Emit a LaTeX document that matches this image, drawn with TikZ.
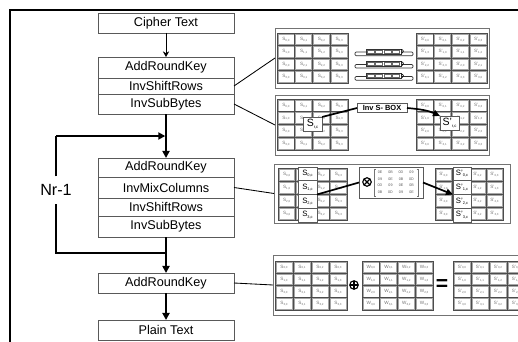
\documentclass[tikz,border=0pt]{standalone}
\usepackage{fontspec}
\setmainfont{Liberation Sans}
\usetikzlibrary{arrows.meta,calc}

% one drawing unit = 0.025cm
\newdimen\pxu \pxu=0.025cm

% state entry: letter with row,column index
\newcommand\idx[3]{{\fontsize{3.3}{3.3}\selectfont #1\raisebox{-0.6pt}{\fontsize{2.1}{2.1}\selectfont #2,#3}}}
\newcommand\bigidx[3]{{\fontsize{5.5}{5.5}\selectfont #1\raisebox{-0.9pt}{\fontsize{2.8}{2.8}\selectfont #2,#3}}}
\newcommand\boxidx[1]{{\fontsize{7.5}{7.5}\selectfont #1\raisebox{-1.6pt}{\fontsize{3}{3}\selectfont r,c}}}

\tikzset{
  flowbox/.style={draw=black!65, line width=0.6pt, fill=white, minimum width=136*\pxu,
    inner sep=0pt, outer sep=0pt, font=\fontsize{9}{9}\selectfont},
  flowarr/.style={line width=1.3pt, -{Triangle[length=5pt,width=5pt]}},
  flowline/.style={line width=1.3pt},
  thinarr/.style={line width=0.6pt, -{Stealth[length=4pt,width=4.5pt]}},
  link/.style={line width=0.6pt},
  panel/.style={draw=black!55, line width=0.6pt, inner sep=0pt, outer sep=0pt},
  gridline/.style={draw=black!70, line width=0.45pt},
  cellline/.style={draw=black!35, line width=0.3pt},
  celltext/.style={inner sep=0pt, text=black!55},
  hibox/.style={draw=black!65, fill=white, line width=0.5pt, inner sep=0pt, outer sep=0pt},
  hot/.style={line width=1.2pt},
  hotarr/.style={line width=1.2pt, -{Triangle[length=5pt,width=4.5pt]}},
  hex/.style={inner sep=0pt, text=black!65, font=\fontsize{2.6}{2.6}\selectfont},
  bar/.style={draw=black!80, line width=0.5pt, fill=white},
  opcircle/.style={circle, draw, line width=0.8pt, inner sep=0pt, minimum size=8.5*\pxu},
}

% 4x4 state grid: name, x0, y0, cell width, cell height, letter, row shift,
% column left without entries (it is covered by a highlighted column)
\newcommand\stategrid[8]{%
  \foreach \ri in {0,...,3}{%
    \foreach \ci in {0,...,3}{%
      \pgfmathtruncatemacro\cc{mod(\ci-#7*\ri+4,4)}%
      \draw[cellline] ({#2+\ci*#4+0.9},{#3+\ri*#5+0.9}) rectangle ++({#4-1.8},{#5-1.8});
      \ifnum\ci=#8\relax\else
        \node[celltext] (#1-\ri-\ci) at ({#2+(\ci+0.5)*#4},{#3+(\ri+0.5)*#5}) {\idx{#6}{\ri}{\cc}};
      \fi
    }}%
  \draw[gridline] (#2,#3) rectangle ++({4*#4},{4*#5});
  \foreach \k in {1,2,3}{%
    \draw[gridline] ({#2+\k*#4},#3) -- ++(0,{4*#5});
    \draw[gridline] (#2,{#3+\k*#5}) -- ++({4*#4},0);
  }%
}

% one shifted row strip, centred on row height #1
\newcommand\shiftbar[1]{%
  \draw[bar, rounded corners=0.8pt] (355,{#1-0.2}) rectangle (413,{#1+3.4});
  \draw[bar] (366,{#1-3}) rectangle (401,{#1+1.6});
  \foreach \k in {0,1,2,3}
    \draw[draw=black!60, line width=0.35pt] ({367+\k*8.5},{#1-2.2}) rectangle ++(7,3);
  \draw[line width=0.45pt] (401,{#1-3}) .. controls (404,{#1-2.5}) and (404,{#1}) .. (402,{#1+1});
}

\begin{document}
\begin{tikzpicture}[x=0.025cm, y=-0.025cm]
\useasboundingbox (0,0) rectangle (518,341);
\clip (0,0) rectangle (518,341);

% outer frame
\draw[line width=1.5pt] (10,342) -- (10,10) -- (519,10);

% ---------- decryption flow ----------
\node[flowbox, minimum height=20*\pxu] (cipher) at (166,23) {Cipher Text};

\node[flowbox, minimum height=21*\pxu] (ark1) at (166,67.5) {AddRoundKey};
\node[flowbox, minimum height=16*\pxu] (isr1) at (166,86) {InvShiftRows};
\node[flowbox, minimum height=20*\pxu] (isb1) at (166,104) {InvSubBytes};

\node[flowbox, minimum height=19*\pxu] (ark2) at (166,167.5) {AddRoundKey};
\node[flowbox, minimum height=21*\pxu] (imc2) at (166,187.5) {InvMixColumns};
\node[flowbox, minimum height=18*\pxu] (isr2) at (166,207) {InvShiftRows};
\node[flowbox, minimum height=21*\pxu] (isb2) at (166,226.5) {InvSubBytes};

\node[flowbox, minimum height=20*\pxu] (ark3) at (166,283) {AddRoundKey};
\node[flowbox, minimum height=20*\pxu] (plain) at (166,330) {Plain Text};

\draw[thinarr] (cipher.south) -- (ark1.north);
\draw[flowarr] (isb1.south) -- (ark2.north);
\draw[flowarr] (isb2.south) -- (ark3.north);
\draw[flowarr] (ark3.south) -- (plain.north);

% round loop
\coordinate (join) at (166,253);
\coordinate (loopbot) at (56,253);
\coordinate (looptop) at (56,136);
\coordinate (merge) at (165.3,136);
\node[inner xsep=1pt, inner ysep=5.5pt, font=\fontsize{11.5}{12}\selectfont] (nr) at (56,190) {Nr-1};
\draw[flowline] (join) -- (loopbot) -- (nr.south);
\draw[flowline] (nr.north) -- (looptop);
\draw[flowarr] (looptop) -- (merge);

% ---------- InvShiftRows panel ----------
\node[panel, minimum width=214*\pxu, minimum height=60*\pxu] (p1) at (382,58) {};
\stategrid{a}{277}{33}{17.75}{12.5}{S}{0}{9}
\stategrid{b}{416}{33}{17.75}{12.5}{S'}{1}{9}
\shiftbar{52.3}
\shiftbar{64.6}
\shiftbar{76.8}

% ---------- InvSubBytes panel ----------
\node[panel, minimum width=214*\pxu, minimum height=60*\pxu] (p2) at (382,125) {};
\stategrid{c}{277}{99}{17.75}{12.75}{S}{0}{9}
\stategrid{d}{416}{99}{17.75}{12.75}{S'}{0}{9}
\node[hibox, minimum width=19*\pxu, minimum height=14*\pxu] (sl) at (312.5,124) {\boxidx{S}};
\node[hibox, minimum width=19*\pxu, minimum height=14*\pxu] (sr) at (449.5,123) {\boxidx{S'}};
\node[hibox, minimum width=50*\pxu, minimum height=8.5*\pxu,
      font=\fontsize{5.3}{5.3}\selectfont\bfseries] (sbox) at (382,108) {Inv S- BOX};
\draw[hot] (sl.north east) -- (sbox.west);
\draw[hotarr] (sbox.east) to[out=-5, in=155] (sr.north west);

% ---------- InvMixColumns panel ----------
\node[panel, minimum width=236*\pxu, minimum height=59*\pxu] (p3) at (392,193.5) {};
\stategrid{e}{278}{168}{17.25}{13}{S}{0}{1}
\stategrid{f}{435}{168}{17}{13}{S'}{0}{1}
\foreach \ri in {0,...,3}{
  \node[hibox, minimum width=19*\pxu, minimum height=13.75*\pxu] (hl\ri)
    at (307.5,{167+(\ri+0.5)*13.75}) {\bigidx{S}{\ri}{c}};
  \node[hibox, minimum width=18*\pxu, minimum height=13.75*\pxu] (hr\ri)
    at (462,{167+(\ri+0.5)*13.75}) {\bigidx{S'}{\ri}{c}};
}
\node[hibox, minimum width=64*\pxu, minimum height=31*\pxu] (mix) at (391,182.5) {};
\node[opcircle, path picture={
  \draw[line width=0.8pt] (path picture bounding box.north west) -- (path picture bounding box.south east)
    (path picture bounding box.north east) -- (path picture bounding box.south west);}] (times) at (367,182) {};
\foreach [count=\ri from 0] \rowtxt in {{0E,0B,0D,09},{09,0E,0B,0D},{0D,09,0E,0B},{0B,0D,09,0E}}{
  \foreach [count=\ci from 0] \h in \rowtxt {
    \node[hex] (m-\ri-\ci) at ({380+\ci*10.5},{172.5+\ri*6.5}) {\h};
  }
}
\draw[black!55, line width=0.4pt] (375.5,169) -- (374,169) -- (374,196) -- (375.5,196);
\draw[black!55, line width=0.4pt] (416.5,169) -- (418,169) -- (418,196) -- (416.5,196);
\draw[hot] (hl1.south east) -- (mix.west);
\draw[hotarr] (mix.east) -- (hr1.south west);

% ---------- AddRoundKey panel ----------
\node[panel, minimum width=260*\pxu, minimum height=60*\pxu] (p4) at (403,285) {};
\stategrid{g}{275}{261}{18}{12.25}{S}{0}{9}
\stategrid{w}{362}{261}{17.75}{12.25}{W}{0}{9}
\stategrid{h}{453}{261}{18}{12.25}{S'}{0}{9}
\node[opcircle, path picture={
  \draw[line width=0.8pt] (path picture bounding box.north) -- (path picture bounding box.south)
    (path picture bounding box.east) -- (path picture bounding box.west);}] (plus) at (354,285) {};
\node[inner sep=0pt, font=\fontsize{15}{15}\selectfont\bfseries] (eq) at (442,285) {=};

% ---------- links from steps to panels ----------
\draw[link] (isr1.east) -- (p1.west);
\draw[link] (isb1.east) -- (p2.west);
\draw[link] (imc2.east) -- (p3.west);
\draw[link] (ark3.east) -- (p4.west);
\end{tikzpicture}
\end{document}
